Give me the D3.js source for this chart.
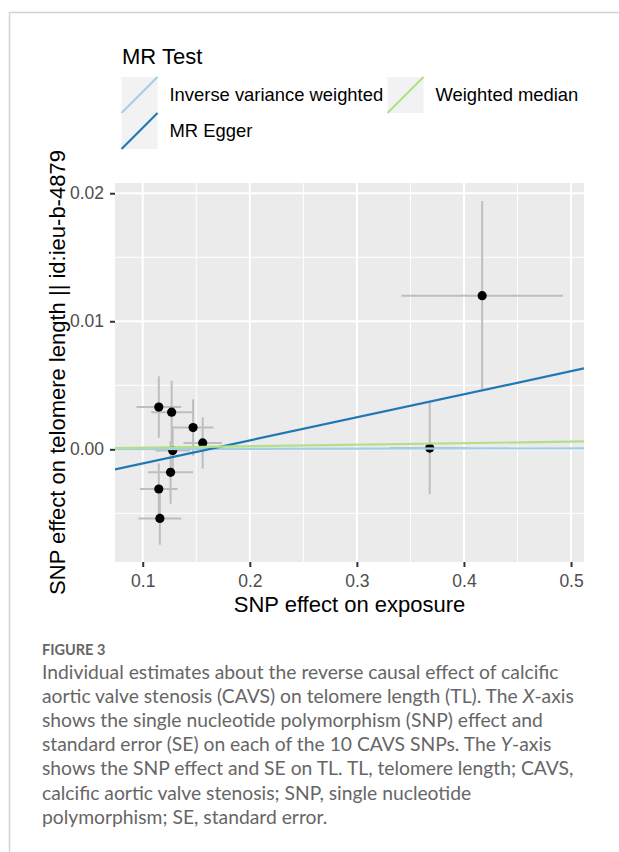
<!DOCTYPE html>
<html>
<head>
<meta charset="utf-8">
<script src="https://cdn.jsdelivr.net/npm/d3@7"></script>
<style>
  body { margin: 0; background: #fff; }
  svg { display: block; }
</style>
</head>
<body>
<div id="chart"></div>
<script>
// SNP effects on exposure (CAVS) and on outcome (telomere length)
var snpExposure = [0.115, 0.127, 0.147, 0.156, 0.128, 0.126, 0.115, 0.116, 0.368, 0.417];
var seExposure  = [0.021, 0.019, 0.019, 0.018, 0.016, 0.021, 0.0175, 0.020, 0.037, 0.0755];
var snpOutcome  = [0.0033, 0.0029, 0.0017, 0.0005, -0.0001, -0.0018, -0.0031, -0.0054, 0.0001, 0.0120];
var seOutcome   = [0.0024, 0.00245, 0.0022, 0.0020, 0.0019, 0.00245, 0.0020, 0.00205, 0.0036, 0.0074];

// MR method lines (intercept, slope)
var methods = ["Inverse variance weighted", "MR Egger", "Weighted median"];
var methodColors = ["#a6cee3", "#1f78b4", "#b2df8a"];
var intercepts = [0, -0.0029, 0];
var slopes = [0.00015, 0.018, 0.0012];

var xTicks = [0.1, 0.2, 0.3, 0.4, 0.5];
var yTicks = [0.00, 0.01, 0.02];

var captionLines = [
  "Individual estimates about the reverse causal effect of calcific",
  "aortic valve stenosis (CAVS) on telomere length (TL). The X-axis",
  "shows the single nucleotide polymorphism (SNP) effect and",
  "standard error (SE) on each of the 10 CAVS SNPs. The Y-axis",
  "shows the SNP effect and SE on TL. TL, telomere length; CAVS,",
  "calcific aortic valve stenosis; SNP, single nucleotide",
  "polymorphism; SE, standard error."
];

var svgWidth = 619;
var svgHeight = 852;

var panel = { left: 115, right: 584, top: 183, bottom: 562 };

var svg = d3.select("#chart")
  .append("svg")
  .attr("width", svgWidth)
  .attr("height", svgHeight);

// outer frame (left + top border of the figure box)
svg.append("path")
  .attr("d", `M9.5,${svgHeight} V12.5 H${svgWidth}`)
  .attr("fill", "none")
  .attr("stroke", "#d3d3d3")
  .attr("stroke-width", 1.5);

// scales
var x = d3.scaleLinear()
  .domain([0.0741, 0.5121])
  .range([panel.left, panel.right]);

var y = d3.scaleLinear()
  .domain([-0.0088, 0.0208])
  .range([panel.bottom, panel.top]);

// panel background
svg.append("rect")
  .attr("x", panel.left)
  .attr("y", panel.top)
  .attr("width", panel.right - panel.left)
  .attr("height", panel.bottom - panel.top)
  .attr("fill", "#ebebeb");

// minor grid
var xMinor = [0.15, 0.25, 0.35, 0.45];
var yMinor = [-0.005, 0.005, 0.015];
var grid = svg.append("g");

grid.selectAll("line.xminor")
  .data(xMinor)
  .enter()
  .append("line")
  .attr("x1", d => x(d)).attr("x2", d => x(d))
  .attr("y1", panel.top).attr("y2", panel.bottom)
  .attr("stroke", "#fff").attr("stroke-width", 1);

grid.selectAll("line.yminor")
  .data(yMinor)
  .enter()
  .append("line")
  .attr("y1", d => y(d)).attr("y2", d => y(d))
  .attr("x1", panel.left).attr("x2", panel.right)
  .attr("stroke", "#fff").attr("stroke-width", 1);

// major grid
grid.selectAll("line.xmajor")
  .data(xTicks)
  .enter()
  .append("line")
  .attr("x1", d => x(d)).attr("x2", d => x(d))
  .attr("y1", panel.top).attr("y2", panel.bottom)
  .attr("stroke", "#fff").attr("stroke-width", 2);

grid.selectAll("line.ymajor")
  .data(yTicks)
  .enter()
  .append("line")
  .attr("y1", d => y(d)).attr("y2", d => y(d))
  .attr("x1", panel.left).attr("x2", panel.right)
  .attr("stroke", "#fff").attr("stroke-width", 2);

// data rows
var snps = snpExposure.map(function(d, i) {
  return { bx: d, sx: seExposure[i], by: snpOutcome[i], sy: seOutcome[i] };
});

var plot = svg.append("g");

// vertical error bars
plot.selectAll("line.ev")
  .data(snps)
  .enter()
  .append("line")
  .attr("x1", d => x(d.bx)).attr("x2", d => x(d.bx))
  .attr("y1", d => y(d.by - d.sy)).attr("y2", d => y(d.by + d.sy))
  .attr("stroke", "#bebebe").attr("stroke-width", 2);

// horizontal error bars
plot.selectAll("line.eh")
  .data(snps)
  .enter()
  .append("line")
  .attr("y1", d => y(d.by)).attr("y2", d => y(d.by))
  .attr("x1", d => x(d.bx - d.sx)).attr("x2", d => x(d.bx + d.sx))
  .attr("stroke", "#bebebe").attr("stroke-width", 2);

// points
plot.selectAll("circle")
  .data(snps)
  .enter()
  .append("circle")
  .attr("cx", d => x(d.bx))
  .attr("cy", d => y(d.by))
  .attr("r", 4.6)
  .attr("fill", "#000");

// method lines, clipped to the panel
svg.append("clipPath")
  .attr("id", "panel-clip")
  .append("rect")
  .attr("x", panel.left)
  .attr("y", panel.top)
  .attr("width", panel.right - panel.left)
  .attr("height", panel.bottom - panel.top);

var xDom = x.domain();
// draw order as in ggplot: IVW, Egger, weighted median
plot.append("g")
  .attr("clip-path", "url(#panel-clip)")
  .selectAll("line")
  .data(methods)
  .enter()
  .append("line")
  .attr("x1", x(xDom[0]))
  .attr("x2", x(xDom[1]))
  .attr("y1", (d, i) => y(intercepts[i] + slopes[i] * xDom[0]))
  .attr("y2", (d, i) => y(intercepts[i] + slopes[i] * xDom[1]))
  .attr("stroke", (d, i) => methodColors[i])
  .attr("stroke-width", 2.2);

// axes
var xAxis = d3.axisBottom(x)
  .tickValues(xTicks)
  .tickFormat(d3.format(".1f"))
  .tickSize(5)
  .tickPadding(4);

var yAxis = d3.axisLeft(y)
  .tickValues(yTicks)
  .tickFormat(d3.format(".2f"))
  .tickSize(5)
  .tickPadding(6);

var gx = svg.append("g")
  .attr("transform", `translate(0, ${panel.bottom})`)
  .call(xAxis);

var gy = svg.append("g")
  .attr("transform", `translate(${panel.left}, 0)`)
  .call(yAxis);

[gx, gy].forEach(function(g) {
  g.select(".domain").remove();
  g.selectAll(".tick line").attr("stroke", "#333").attr("stroke-width", 2);
  g.selectAll(".tick text")
    .attr("fill", "#4d4d4d")
    .style("font-family", "'Liberation Sans', Arial, sans-serif")
    .style("font-size", "17.5px");
});
gx.selectAll(".tick text").attr("dy", "0.9em");

// axis titles
svg.append("text")
  .attr("x", (panel.left + panel.right) / 2)
  .attr("y", 612)
  .attr("text-anchor", "middle")
  .style("font-family", "'Liberation Sans', Arial, sans-serif")
  .style("font-size", "22px")
  .attr("fill", "#000")
  .text("SNP effect on exposure");

svg.append("text")
  .attr("transform", `translate(65, ${(panel.top + panel.bottom) / 2}) rotate(-90)`)
  .attr("text-anchor", "middle")
  .style("font-family", "'Liberation Sans', Arial, sans-serif")
  .style("font-size", "22px")
  .attr("fill", "#000")
  .text("SNP effect on telomere length || id:ieu-b-4879");

// legend
var legend = svg.append("g")
  .style("font-family", "'Liberation Sans', Arial, sans-serif");

legend.append("text")
  .attr("x", 122)
  .attr("y", 64)
  .style("font-size", "22px")
  .attr("fill", "#000")
  .text("MR Test");

var keySize = 36;
var keyPos = [
  { x: 121.5, y: 77 },
  { x: 121.5, y: 113 },
  { x: 387.5, y: 77 }
];

var keys = legend.selectAll("g.key")
  .data(methods)
  .enter()
  .append("g")
  .attr("transform", (d, i) => `translate(${keyPos[i].x}, ${keyPos[i].y})`);

keys.append("rect")
  .attr("width", keySize)
  .attr("height", keySize)
  .attr("fill", "#f2f2f2");

keys.append("line")
  .attr("x1", 0).attr("y1", keySize)
  .attr("x2", keySize).attr("y2", 0)
  .attr("stroke", (d, i) => methodColors[i])
  .attr("stroke-width", 2.2);

keys.append("text")
  .attr("x", keySize + 12)
  .attr("y", keySize / 2)
  .attr("dy", "0.35em")
  .style("font-size", "18.4px")
  .attr("fill", "#000")
  .text(d => d);

// figure caption
var caption = svg.append("g")
  .style("font-family", "Lato, 'Open Sans', sans-serif");

caption.append("text")
  .attr("x", 42)
  .attr("y", 655)
  .style("font-size", "14.5px")
  .style("font-weight", "bold")
  .attr("fill", "#666")
  .text("FIGURE 3");

caption.selectAll("text.cap")
  .data(captionLines)
  .enter()
  .append("text")
  .attr("class", "cap")
  .attr("x", 42)
  .attr("y", (d, i) => 679 + 24.1 * i)
  .style("font-size", "19.3px")
  .attr("fill", "#666")
  .each(function(d) {
    // italicise the axis letters
    var parts = d.split(/(\bX(?=-axis)|\bY(?=-axis))/);
    var t = d3.select(this);
    parts.forEach(function(p) {
      if (p === "") return;
      t.append("tspan")
        .style("font-style", (p === "X" || p === "Y") ? "italic" : null)
        .text(p);
    });
  });
</script>
</body>
</html>
